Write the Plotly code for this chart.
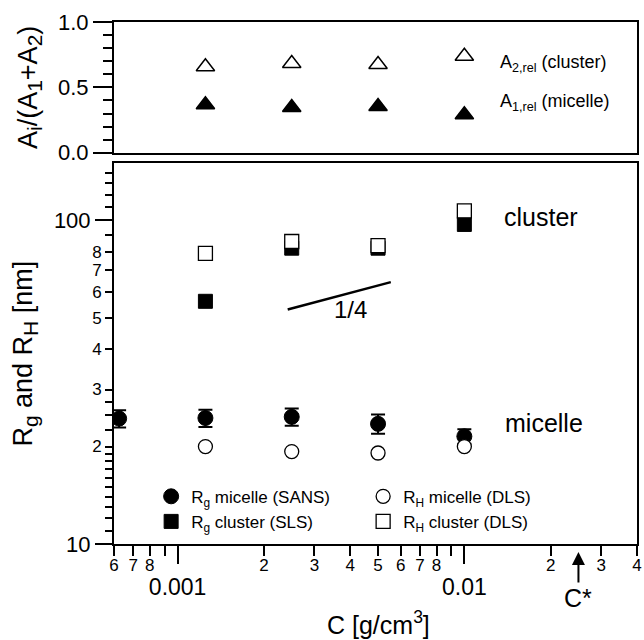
import numpy as np
import plotly.graph_objects as go

# ---------------- data ----------------
conc_sans = [0.000625, 0.00125, 0.0025, 0.005, 0.01]
rg_micelle = [24.4, 24.5, 24.7, 23.5, 21.5]
rg_micelle_err = [1.5, 1.5, 1.5, 1.6, 1.1]

conc = [0.00125, 0.0025, 0.005, 0.01]
rh_micelle = [20.0, 19.3, 19.1, 20.0]
rg_cluster = [56.2, 82.0, 82.0, 97.1]
rh_cluster = [79.0, 86.0, 83.5, 107.0]

a2_rel = [0.657, 0.682, 0.675, 0.738]
a1_rel = [0.367, 0.346, 0.354, 0.290]

slope_c = [0.00242, 0.00554]
slope_r = [53.0, 64.4]
c_star = 0.025

x_minor_vals = [0.0006, 0.0007, 0.0008, 0.0009, 0.002, 0.003, 0.004, 0.005,
                0.006, 0.007, 0.008, 0.009, 0.02, 0.03, 0.04]
x_minor_text = ['6', '7', '8', '', '2', '3', '4', '5', '6', '7', '8', '', '2', '3', '4']
x_major_vals = [0.001, 0.01]
x_major_text = ['0.001', '0.01']

y_minor_vals = [11, 12, 13, 14, 15, 16, 17, 18, 19, 20, 22.5, 25, 27.5, 30, 40, 50,
                60, 70, 80, 90, 110, 120, 130, 140]
y_minor_text = ['', '', '', '', '', '', '', '', '', '2', '', '', '', '3', '4', '5',
                '6', '7', '8', '', '', '', '', '']
y_major_vals = [10, 100]
y_major_text = ['10', '100']

a_tick_vals = [0.0, 0.5, 1.0]
a_tick_text = ['0.0', '0.5', '1.0']

FONT = "Liberation Sans, Arial, sans-serif"
K = "black"

fig = go.Figure()

# ---------------- top panel ----------------
fig.add_trace(go.Scatter(x=conc, y=a2_rel, mode="markers", showlegend=False,
                         marker=dict(symbol="triangle-up", size=16, color="white",
                                     line=dict(color=K, width=1.5)),
                         xaxis="x", yaxis="y"))
fig.add_trace(go.Scatter(x=conc, y=a1_rel, mode="markers", showlegend=False,
                         marker=dict(symbol="triangle-up", size=16, color=K,
                                     line=dict(color=K, width=1.5)),
                         xaxis="x", yaxis="y"))

# ---------------- bottom panel ----------------
fig.add_trace(go.Scatter(x=conc_sans, y=rg_micelle, mode="markers",
                         name="R<sub>g</sub> micelle (SANS)",
                         error_y=dict(type="data", array=rg_micelle_err, color=K,
                                      thickness=2, width=7),
                         marker=dict(symbol="circle", size=15, color=K,
                                     line=dict(color=K, width=1)),
                         xaxis="x2", yaxis="y2"))
fig.add_trace(go.Scatter(x=conc, y=rh_micelle, mode="markers",
                         name="R<sub>H</sub> micelle (DLS)",
                         marker=dict(symbol="circle", size=14, color="white",
                                     line=dict(color=K, width=1.3)),
                         xaxis="x2", yaxis="y2"))
fig.add_trace(go.Scatter(x=conc, y=rg_cluster, mode="markers",
                         name="R<sub>g</sub> cluster (SLS)",
                         marker=dict(symbol="square", size=14, color=K,
                                     line=dict(color=K, width=1)),
                         xaxis="x2", yaxis="y2"))
fig.add_trace(go.Scatter(x=conc, y=rh_cluster, mode="markers",
                         name="R<sub>H</sub> cluster (DLS)",
                         marker=dict(symbol="square", size=14, color="white",
                                     line=dict(color=K, width=1.3)),
                         xaxis="x2", yaxis="y2"))
fig.add_trace(go.Scatter(x=slope_c, y=slope_r, mode="lines", showlegend=False,
                         line=dict(color=K, width=2.5),
                         xaxis="x2", yaxis="y2"))

xr = [np.log10(0.0006) - 1e-4, np.log10(0.04) + 1e-4]
yr = [1 - 1e-4, np.log10(150)]

axis_common = dict(showgrid=False, zeroline=False, linecolor=K, linewidth=2,
                   tickcolor=K, tickwidth=2, automargin=False)

SUB = "<sub><span style='font-size:21px'>{}</span></sub>"
title_top = "A" + SUB.format("i") + "/(A" + SUB.format("1") + "+A" + SUB.format("2") + ")"
title_bot = "R" + SUB.format("g") + " and R" + SUB.format("H") + " [nm]"

fig.update_layout(
    width=644, height=640,
    margin=dict(l=114, r=7, t=22, b=96),
    paper_bgcolor="white", plot_bgcolor="white",
    font=dict(family=FONT, color=K),
    showlegend=True,
    legend=dict(orientation="h", x=0.071, y=0.125, xanchor="left", yanchor="top",
                entrywidth=167, entrywidthmode="pixels",
                font=dict(size=17, family=FONT), bgcolor="rgba(0,0,0,0)",
                tracegroupgap=0),
    xaxis=dict(**axis_common, type="log", range=xr, domain=[0, 1], anchor="y",
               showline=True, mirror=True, ticks="", showticklabels=False),
    yaxis=dict(**axis_common, domain=[0.7496, 1.0], range=[0, 1], anchor="x",
               showline=True, mirror=True, ticks="outside", ticklen=19,
               tickvals=a_tick_vals, ticktext=a_tick_text,
               tickfont=dict(size=22),
               minor=dict(dtick=0.1, ticklen=9, ticks="outside", tickcolor=K, tickwidth=2),
               title=dict(text=title_top, font=dict(size=27), standoff=13)),
    xaxis2=dict(**axis_common, type="log", range=xr, domain=[0, 1], anchor="y2",
                showline=True, mirror=True, ticks="outside", ticklen=10,
                tickvals=x_minor_vals, ticktext=x_minor_text,
                tickfont=dict(size=17), ticklabelstandoff=-5),
    xaxis3=dict(**axis_common, type="log", range=xr, overlaying="x2", anchor="y2",
                side="bottom", showline=False, ticks="outside", ticklen=19,
                tickvals=x_major_vals, ticktext=x_major_text,
                tickfont=dict(size=23), ticklabelstandoff=3),
    yaxis2=dict(**axis_common, type="log", range=yr, domain=[0, 0.7293], anchor="x2",
                showline=True, mirror=True, ticks="outside", ticklen=17,
                tickvals=y_major_vals, ticktext=y_major_text,
                tickfont=dict(size=22),
                title=dict(text=title_bot, font=dict(size=27), standoff=13)),
    yaxis3=dict(**axis_common, type="log", range=yr, overlaying="y2", anchor="x2",
                side="left", showline=False, ticks="outside", ticklen=8,
                tickvals=y_minor_vals, ticktext=y_minor_text,
                tickfont=dict(size=17)),
)

# invisible trace so the overlay tick axes render
fig.add_trace(go.Scatter(x=[conc[0]], y=[rg_micelle[0]], mode="markers",
                         marker=dict(opacity=0), showlegend=False, hoverinfo="skip",
                         xaxis="x3", yaxis="y3"))

ann = [
    dict(text="cluster", x=0.817, y=0.627, xref="paper", yref="paper",
         showarrow=False, font=dict(size=25), xanchor="center", yanchor="middle"),
    dict(text="micelle", x=0.822, y=0.232, xref="paper", yref="paper",
         showarrow=False, font=dict(size=25), xanchor="center", yanchor="middle"),
    dict(text="1/4", x=0.453, y=0.450, xref="paper", yref="paper",
         showarrow=False, font=dict(size=24), xanchor="center", yanchor="middle"),
    dict(text="A<sub>2,rel</sub> (cluster)", x=0.735, y=0.921, xref="paper", yref="paper",
         showarrow=False, font=dict(size=18), xanchor="left", yanchor="middle"),
    dict(text="A<sub>1,rel</sub> (micelle)", x=0.735, y=0.845, xref="paper", yref="paper",
         showarrow=False, font=dict(size=18), xanchor="left", yanchor="middle"),
    dict(text="C [g/cm<sup>3</sup>]", x=0.506, y=-0.152, xref="paper", yref="paper",
         showarrow=False, font=dict(size=25), xanchor="center", yanchor="middle"),
    dict(text="C*", x=np.log10(c_star), y=-0.0153, xref="x2", yref="paper",
         showarrow=True, ax=0, ay=46, axref="pixel", ayref="pixel",
         arrowhead=2, arrowsize=1.3, arrowwidth=2, arrowcolor=K,
         font=dict(size=25)),
]
fig.update_layout(annotations=ann)

fig.write_html("out.html",
               config={"displayModeBar": False},
               post_script="document.body.style.margin='0';"
                           "document.body.style.padding='0';"
                           "document.body.style.overflow='hidden';")
